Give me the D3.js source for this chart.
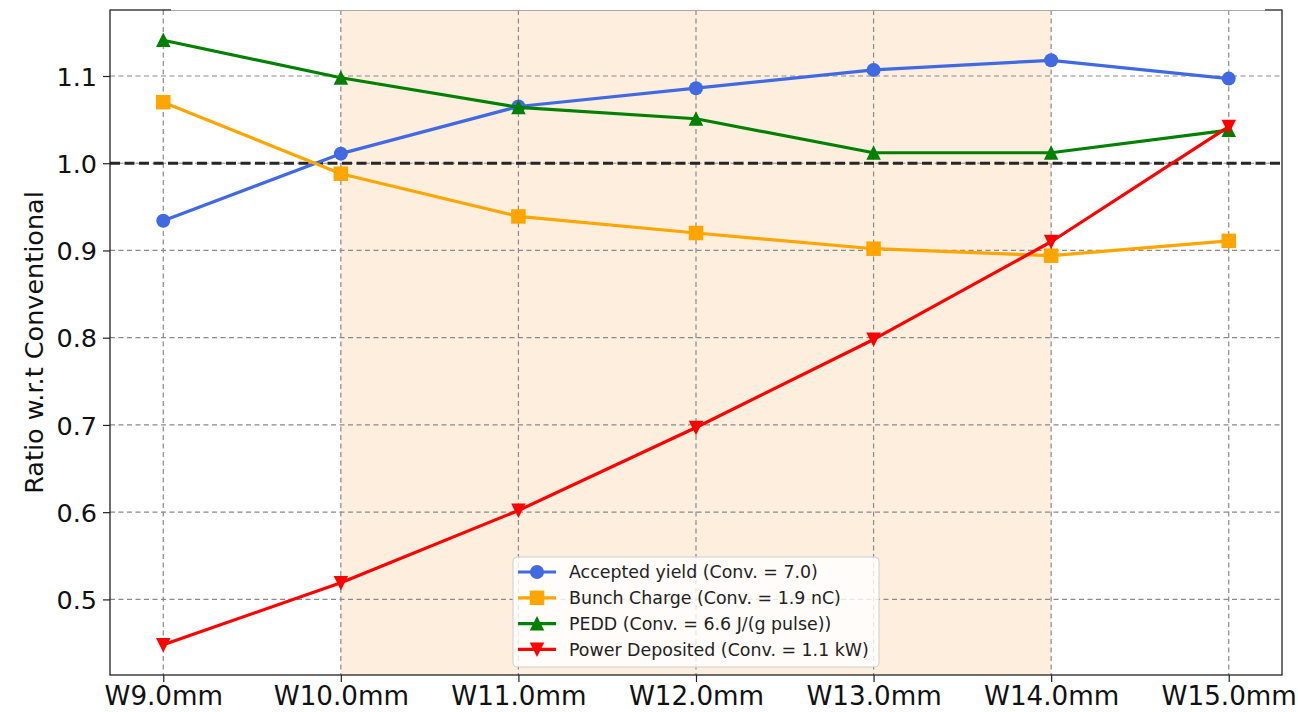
<!DOCTYPE html>
<html>
<head>
<meta charset="utf-8">
<script src="https://cdn.jsdelivr.net/npm/d3@7"></script>
<style>
  html, body { margin: 0; padding: 0; background: #fff; }
  svg { display: block; font-family: "DejaVu Sans", sans-serif; }
</style>
</head>
<body>
<svg id="chart" width="1298" height="712"></svg>
<script>
// Target widths along the x axis
const categories = ["W9.0mm", "W10.0mm", "W11.0mm", "W12.0mm", "W13.0mm", "W14.0mm", "W15.0mm"];

// Ratios relative to the conventional target
const acceptedYield   = [0.934, 1.011, 1.065, 1.086, 1.107, 1.118, 1.097];
const bunchCharge     = [1.070, 0.988, 0.939, 0.920, 0.902, 0.894, 0.911];
const pedd            = [1.141, 1.098, 1.064, 1.051, 1.012, 1.012, 1.038];
const powerDeposited  = [0.448, 0.519, 0.602, 0.697, 0.798, 0.910, 1.042];

const seriesLabels = [
  "Accepted yield (Conv. = 7.0)",
  "Bunch Charge (Conv. = 1.9 nC)",
  "PEDD (Conv. = 6.6 J/(g pulse))",
  "Power Deposited (Conv. = 1.1 kW)"
];

const yTicks = [0.5, 0.6, 0.7, 0.8, 0.9, 1.0, 1.1];
const referenceLevel = 1.0;
const shadedRange = ["W10.0mm", "W14.0mm"];

const series = [
  { label: seriesLabels[0], values: acceptedYield,  color: "#4169e1", marker: "circle" },
  { label: seriesLabels[1], values: bunchCharge,    color: "#ffa500", marker: "square" },
  { label: seriesLabels[2], values: pedd,           color: "#008000", marker: "triangle-up" },
  { label: seriesLabels[3], values: powerDeposited, color: "#ff0000", marker: "triangle-down" }
];

const svg = d3.select("#chart");
const plot = { left: 110, right: 1282, top: 10, bottom: 675 };

// Index-based x scale with a small margin on either side
const xIdx = d3.scaleLinear().domain([-0.3, categories.length - 1 + 0.3]).range([plot.left, plot.right]);
const x = c => xIdx(categories.indexOf(c));

const allVals = [].concat(acceptedYield, bunchCharge, pedd, powerDeposited);
const yMin = d3.min(allVals), yMax = d3.max(allVals);
const pad = (yMax - yMin) * 0.05;
const y = d3.scaleLinear().domain([yMin - pad, yMax + pad]).range([plot.bottom, plot.top]);

// Shaded band
svg.append("rect")
  .attr("x", x(shadedRange[0]))
  .attr("y", plot.top)
  .attr("width", x(shadedRange[1]) - x(shadedRange[0]))
  .attr("height", plot.bottom - plot.top)
  .attr("fill", "#fdeede");

// Grid
const grid = svg.append("g").attr("stroke", "#8a8a8a").attr("stroke-width", 1.2).attr("stroke-dasharray", "5,3.5");
grid.selectAll("line.v").data(categories).join("line")
  .attr("x1", d => x(d)).attr("x2", d => x(d))
  .attr("y1", plot.top).attr("y2", plot.bottom);
grid.selectAll("line.h").data(yTicks).join("line")
  .attr("x1", plot.left).attr("x2", plot.right)
  .attr("y1", d => y(d)).attr("y2", d => y(d));

// Reference line at 1.0
svg.append("line")
  .attr("x1", plot.left).attr("x2", plot.right)
  .attr("y1", y(referenceLevel)).attr("y2", y(referenceLevel))
  .attr("stroke", "#262626").attr("stroke-width", 2.8)
  .attr("stroke-dasharray", "10,4.5");

// Marker shapes
function markerPath(type, size) {
  const h = size / 2;
  if (type === "square") return `M${-h},${-h}H${h}V${h}H${-h}Z`;
  if (type === "triangle-up") return `M0,${-h * 1.05}L${h},${h * 0.95}L${-h},${h * 0.95}Z`;
  if (type === "triangle-down") return `M0,${h * 1.05}L${h},${-h * 0.95}L${-h},${-h * 0.95}Z`;
  return d3.symbol(d3.symbolCircle, Math.PI * h * h)();
}

const line = d3.line().x((d, i) => xIdx(i)).y(d => y(d));

series.forEach(s => {
  const g = svg.append("g");
  g.append("path")
    .attr("d", line(s.values))
    .attr("fill", "none")
    .attr("stroke", s.color)
    .attr("stroke-width", 3.2)
    .attr("stroke-linejoin", "round");
  g.selectAll("path.m").data(s.values).join("path")
    .attr("class", "m")
    .attr("transform", (d, i) => `translate(${xIdx(i)},${y(d)})`)
    .attr("d", markerPath(s.marker, s.marker === "circle" ? 14 : 14.5))
    .attr("fill", s.color);
});

// Axes
const xAxis = d3.axisBottom(xIdx)
  .tickValues(d3.range(categories.length))
  .tickFormat(i => categories[i])
  .tickSize(7).tickPadding(4);
const gx = svg.append("g").attr("transform", `translate(0,${plot.bottom})`).call(xAxis);
gx.select(".domain").remove();
gx.selectAll("line").attr("stroke", "#222").attr("stroke-width", 1.2);
gx.selectAll("text").attr("font-size", 26.2).attr("fill", "#111")
  .attr("font-family", "DejaVu Sans").attr("dy", "0.74em");

const yAxis = d3.axisLeft(y).tickValues(yTicks).tickFormat(d3.format(".1f")).tickSize(7).tickPadding(6);
const gy = svg.append("g").attr("transform", `translate(${plot.left},0)`).call(yAxis);
gy.select(".domain").remove();
gy.selectAll("line").attr("stroke", "#222").attr("stroke-width", 1.2);
gy.selectAll("text").attr("font-size", 25.5).attr("fill", "#111")
  .attr("font-family", "DejaVu Sans").attr("dy", "0.36em");

// Frame
svg.append("rect")
  .attr("x", plot.left).attr("y", plot.top)
  .attr("width", plot.right - plot.left).attr("height", plot.bottom - plot.top)
  .attr("fill", "none").attr("stroke", "#222").attr("stroke-width", 1.3);

// Title box resting on the top edge of the frame
svg.append("rect")
  .attr("x", 171).attr("y", -30)
  .attr("width", 1265 - 171).attr("height", 41)
  .attr("fill", "#fff");
svg.append("line")
  .attr("x1", 171).attr("x2", 1265)
  .attr("y1", plot.top + 0.5).attr("y2", plot.top + 0.5)
  .attr("stroke", "#a8a8a8").attr("stroke-width", 1);

// Y axis label
svg.append("text")
  .attr("transform", `translate(${43},${(plot.top + plot.bottom) / 2}) rotate(-90)`)
  .attr("text-anchor", "middle")
  .attr("font-size", 25.5)
  .attr("fill", "#111")
  .text("Ratio w.r.t Conventional");

// Legend (lower center)
const legW = 366, legH = 110, rowH = 25.8;
const legX = (plot.left + plot.right) / 2 - legW / 2;
const legY = plot.bottom - 8 - legH;
const leg = svg.append("g").attr("transform", `translate(${legX},${legY})`);
leg.append("rect")
  .attr("width", legW).attr("height", legH).attr("rx", 4)
  .attr("fill", "#fff").attr("fill-opacity", 0.8)
  .attr("stroke", "#d0d0d0").attr("stroke-width", 1);
series.forEach((s, i) => {
  const ry = 15 + i * rowH;
  const row = leg.append("g").attr("transform", `translate(0,${ry})`);
  row.append("line").attr("x1", 5).attr("x2", 43).attr("y1", 0).attr("y2", 0)
    .attr("stroke", s.color).attr("stroke-width", 3.2);
  row.append("path").attr("transform", "translate(24,0)")
    .attr("d", markerPath(s.marker, s.marker === "circle" ? 14 : 14.5))
    .attr("fill", s.color);
  row.append("text").attr("x", 56).attr("y", 0).attr("dy", "0.36em")
    .attr("font-size", 17.4).attr("fill", "#222").text(s.label);
});
</script>
</body>
</html>
